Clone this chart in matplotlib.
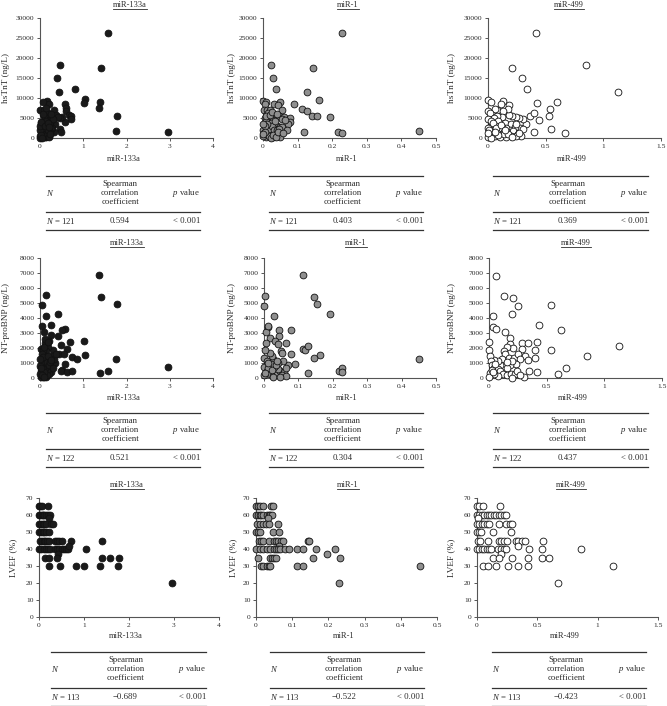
import matplotlib
matplotlib.use("Agg")
import matplotlib.pyplot as plt
from matplotlib.lines import Line2D
import numpy as np

plt.rcParams['font.family'] = ['Liberation Serif', 'DejaVu Serif']
plt.rcParams['mathtext.fontset'] = 'custom'
plt.rcParams['mathtext.rm'] = 'Liberation Serif'
plt.rcParams['mathtext.it'] = 'Liberation Serif:italic'

W, H = 667, 706

# ---- data ----
mirnas = ['miR-133a', 'miR-1', 'miR-499']
markers_face = ['#1a1a1a', '#8f8f8f', 'white']
x_ticks = [[0, 1, 2, 3, 4], [0, 0.1, 0.2, 0.3, 0.4, 0.5], [0, 0.5, 1, 1.5]]
x_tick_labels = [['0', '1', '2', '3', '4'],
                 ['0', '0.1', '0.2', '0.3', '0.4', '0.5'],
                 ['0', '0.5', '1', '1.5']]
y_names = ['hsTnT (ng/L)', 'NT-proBNP (ng/L)', 'LVEF (%)']
y_ticks = [[0, 5000, 10000, 15000, 20000, 25000, 30000],
           [0, 1000, 2000, 3000, 4000, 5000, 6000, 7000, 8000],
           [0, 10, 20, 30, 40, 50, 60, 70]]

n_vals = [121, 122, 113]
rho_vals = [['0.594', '0.403', '0.369'],
            ['0.521', '0.304', '0.437'],
            ['\u22120.689', '\u22120.522', '\u22120.423']]
p_text = '< 0.001'

tnt_133a = [(1.57, 26300), (0.46, 18200), (1.42, 17500), (0.40, 15100), (0.45, 11500), (0.82, 12200),
            (1.05, 9700), (1.02, 8800), (1.38, 9000), (1.36, 7400), (1.78, 5600), (1.75, 1700), (2.97, 1400),
            (0.57, 8500), (0.60, 7500), (0.60, 6800), (0.68, 5700), (0.72, 5500), (0.72, 4700), (0.57, 4100),
            (0.52, 5200), (0.46, 5000), (0.47, 2300), (0.48, 1600), (0.33, 7100), (0.38, 5800), (0.42, 5300),
            (0.35, 3500), (0.32, 1500), (0.28, 2600), (0.16, 9300), (0.08, 9000), (0.20, 8500), (0.0, 7000),
            (0.10, 7000), (0.18, 6300), (0.22, 5600), (0.25, 4900), (0.12, 5000), (0.16, 4900), (0.20, 4500),
            (0.23, 3800), (0.14, 3600), (0.05, 2800), (0.08, 3300), (0.18, 3000), (0.25, 2300), (0.22, 1400),
            (0.12, 1000), (0.02, 1200), (0.04, 2200), (0.06, 1800), (0.09, 2500), (0.11, 1900), (0.13, 2800),
            (0.15, 1500), (0.17, 2200), (0.19, 1000), (0.21, 600), (0.03, 500), (0.05, 300), (0.07, 800),
            (0.09, 400), (0.11, 200), (0.13, 700), (0.15, 300), (0.17, 500), (0.01, 100), (0.02, 2400),
            (0.04, 1500), (0.06, 700), (0.08, 1200), (0.10, 1600), (0.12, 400), (0.14, 1100), (0.16, 800),
            (0.18, 1900), (0.03, 3800), (0.06, 3500), (0.09, 4200), (0.10, 5500), (0.13, 4300), (0.24, 4100),
            (0.27, 5100), (0.30, 4700), (0.0, 2000), (0.01, 3100), (0.02, 4100), (0.11, 3000), (0.19, 3700),
            (0.21, 2700), (0.07, 6100), (0.15, 7500), (0.26, 6000), (0.0, 500), (0.02, 800), (0.04, 100),
            (0.20, 200), (0.23, 1000)]

tnt_1 = [(0.229, 26300), (0.023, 18200), (0.145, 17500), (0.030, 15000), (0.037, 12200), (0.128, 11400),
         (0.163, 9600), (0.090, 8400), (0.112, 7300), (0.128, 6700), (0.143, 5500), (0.157, 5500),
         (0.193, 5300), (0.118, 1400), (0.218, 1500), (0.228, 1300), (0.452, 1700), (0.050, 9000),
         (0.032, 8600), (0.043, 8300), (0.055, 7100), (0.045, 5500), (0.060, 5300), (0.055, 4700),
         (0.078, 5100), (0.078, 4100), (0.072, 3500), (0.0, 9300), (0.008, 9000), (0.006, 8400),
         (0.002, 7000), (0.012, 6900), (0.020, 7000), (0.015, 6200), (0.025, 5200), (0.018, 5000),
         (0.005, 4900), (0.028, 4600), (0.010, 4200), (0.022, 3800), (0.035, 3300), (0.040, 2900),
         (0.048, 2700), (0.055, 2800), (0.030, 2400), (0.015, 2700), (0.005, 2500), (0.0, 2000),
         (0.012, 1800), (0.020, 1500), (0.025, 1100), (0.030, 1700), (0.038, 1400), (0.042, 1000),
         (0.048, 700), (0.050, 300), (0.035, 500), (0.028, 300), (0.020, 700), (0.015, 400), (0.008, 200),
         (0.0, 500), (0.003, 1300), (0.010, 1000), (0.018, 2200), (0.025, 3000), (0.033, 2000),
         (0.040, 1900), (0.045, 2300), (0.012, 3400), (0.006, 3000), (0.016, 600), (0.022, 100),
         (0.030, 800), (0.038, 200), (0.044, 1600), (0.005, 1600), (0.0, 1100), (0.001, 3500),
         (0.009, 5600), (0.020, 5800), (0.027, 6500), (0.035, 4300), (0.040, 5900), (0.065, 4600),
         (0.068, 2000), (0.058, 1200)]

tnt_499 = [(0.42, 26300), (0.85, 18200), (0.205, 17500), (0.295, 15000), (0.34, 12200), (1.13, 11400),
           (0.425, 8700), (0.60, 9000), (0.54, 7300), (0.53, 5500), (0.36, 5500), (0.40, 6200), (0.44, 4400),
           (0.55, 2300), (0.67, 1300), (0.40, 1400), (0.33, 3500), (0.30, 4800), (0.27, 5000), (0.245, 5300),
           (0.21, 5400), (0.18, 5800), (0.18, 8200), (0.13, 9200), (0.0, 9600), (0.03, 9000), (0.11, 8400),
           (0.08, 7000), (0.17, 7200), (0.13, 6800), (0.06, 7300), (0.0, 6800), (0.02, 6200), (0.12, 5200),
           (0.08, 5500), (0.05, 5000), (0.0, 4800), (0.03, 4200), (0.09, 4300), (0.15, 3800), (0.20, 3400),
           (0.25, 2600), (0.28, 2500), (0.30, 2300), (0.23, 2800), (0.19, 2100), (0.16, 2600), (0.12, 2700),
           (0.07, 3100), (0.02, 2800), (0.0, 2400), (0.05, 2000), (0.10, 1800), (0.14, 1500), (0.18, 1200),
           (0.22, 1700), (0.26, 900), (0.29, 500), (0.24, 400), (0.20, 600), (0.16, 300), (0.12, 900),
           (0.08, 1200), (0.04, 700), (0.0, 300), (0.02, 1400), (0.06, 500), (0.10, 200), (0.14, 1000),
           (0.01, 2000), (0.04, 3700), (0.07, 2400), (0.11, 3200), (0.17, 1000), (0.21, 200), (0.27, 1300),
           (0.03, 100), (0.09, 700), (0.15, 2000), (0.24, 3600), (0.0, 1200), (0.06, 1600)]

bnp_133a = [(1.36, 6840), (1.41, 5400), (1.78, 4930), (0.15, 5510), (0.04, 4840), (0.15, 4150), (0.42, 4300),
            (0.25, 3530), (0.05, 3440), (0.09, 3100), (0.58, 3290), (0.50, 3220), (0.42, 2770), (0.25, 2840),
            (1.02, 2490), (0.69, 2380), (0.21, 2440), (0.11, 2330), (0.02, 1960), (0.48, 2180), (0.62, 1930),
            (1.05, 1560), (0.45, 1580), (0.55, 1620), (0.73, 1420), (0.85, 1240), (1.75, 1290), (0.58, 960),
            (0.34, 1000), (0.52, 560), (0.49, 440), (0.62, 400), (0.75, 440), (1.38, 330), (1.57, 440),
            (2.95, 710), (0.30, 1900), (0.28, 1500), (0.33, 1300), (0.38, 1600), (0.22, 1300), (0.18, 2100),
            (0.15, 1800), (0.12, 1500), (0.08, 1900), (0.05, 1600), (0.10, 1200), (0.14, 1000), (0.18, 800),
            (0.22, 600), (0.25, 400), (0.20, 300), (0.16, 500), (0.12, 700), (0.08, 900), (0.04, 1100),
            (0.0, 800), (0.02, 500), (0.05, 300), (0.08, 100), (0.11, 200), (0.14, 100), (0.17, 200),
            (0.02, 100), (0.06, 600), (0.10, 400), (0.13, 1300), (0.17, 1100), (0.21, 900), (0.24, 1100),
            (0.0, 300), (0.03, 700), (0.07, 1400), (0.09, 2100), (0.19, 1500), (0.26, 1200), (0.01, 1300),
            (0.04, 200), (0.12, 2600), (0.19, 2400), (0.29, 700), (0.10, 100)]

bnp_1 = [(0.113, 6840), (0.145, 5410), (0.155, 4920), (0.193, 4280), (0.004, 5480), (0.0, 4810),
         (0.030, 4140), (0.043, 3180), (0.011, 3410), (0.007, 3100), (0.013, 3470), (0.045, 2800),
         (0.078, 3230), (0.017, 2700), (0.032, 2470), (0.063, 2320), (0.042, 2250), (0.005, 2320),
         (0.112, 1920), (0.119, 1870), (0.127, 2140), (0.164, 1510), (0.144, 1360), (0.079, 1580),
         (0.050, 1800), (0.051, 1650), (0.090, 940), (0.071, 870), (0.128, 360), (0.450, 1250),
         (0.217, 470), (0.227, 650), (0.228, 400), (0.056, 1140), (0.040, 1000), (0.027, 1270),
         (0.022, 1470), (0.016, 1670), (0.003, 1850), (0.001, 1360), (0.008, 1140), (0.001, 730),
         (0.009, 470), (0.017, 240), (0.027, 110), (0.037, 290), (0.047, 470), (0.059, 400), (0.064, 690),
         (0.042, 620), (0.030, 730), (0.020, 910), (0.013, 650), (0.001, 200), (0.003, 360), (0.022, 510),
         (0.034, 870), (0.051, 200), (0.063, 160), (0.013, 1020), (0.037, 1140), (0.025, 70), (0.047, 70)]

bnp_499 = [(0.058, 6820), (0.127, 5460), (0.205, 5350), (0.254, 4790), (0.202, 4250), (0.037, 4120),
           (0.032, 3410), (0.058, 3250), (0.138, 3070), (0.54, 4900), (0.62, 3200), (0.435, 3520),
           (0.85, 1470), (1.125, 2140), (0.54, 1890), (0.29, 2340), (0.34, 2320), (0.42, 2430), (0.40, 1870),
           (0.29, 1920), (0.315, 1490), (0.34, 1220), (0.40, 1340), (0.35, 470), (0.42, 400), (0.60, 290),
           (0.67, 670), (0.30, 40), (0.185, 2700), (0.18, 2250), (0.21, 2030), (0.16, 2070), (0.127, 1800),
           (0.138, 1580), (0.115, 1250), (0.173, 1360), (0.213, 1360), (0.248, 1580), (0.265, 1250),
           (0.234, 910), (0.185, 850), (0.153, 690), (0.095, 870), (0.075, 1140), (0.040, 1220), (0.0, 2430),
           (0.0, 1890), (0.009, 1470), (0.014, 1140), (0.023, 870), (0.043, 690), (0.075, 580), (0.095, 470),
           (0.124, 240), (0.153, 180), (0.19, 290), (0.225, 240), (0.24, 470), (0.27, 200), (0.20, 20),
           (0.08, 150), (0.046, 240), (0.012, 360), (0.003, 70), (0.023, 510), (0.052, 910), (0.037, 400),
           (0.196, 1140), (0.153, 1070)]

lvef_133a = [(0.0, 65), (0.03, 65), (0.06, 65), (0.20, 65),
             (0.0, 60), (0.03, 60), (0.06, 60), (0.09, 60), (0.12, 60), (0.15, 60), (0.20, 60), (0.24, 60),
             (0.22, 58),
             (0.0, 55), (0.04, 55), (0.08, 55), (0.12, 55), (0.16, 55), (0.26, 55), (0.30, 55),
             (0.0, 50), (0.04, 50), (0.08, 50), (0.12, 50), (0.16, 50), (0.22, 50),
             (0.03, 45), (0.06, 45), (0.10, 45), (0.14, 45), (0.18, 45), (0.22, 45), (0.35, 45), (0.40, 45),
             (0.45, 45), (0.50, 45), (0.72, 45), (1.40, 45),
             (0.0, 40), (0.05, 40), (0.10, 40), (0.15, 40), (0.20, 40), (0.25, 40), (0.35, 40), (0.40, 40),
             (0.45, 40), (0.50, 40), (0.55, 40), (0.60, 40), (0.64, 40), (1.04, 40),
             (0.67, 42), (0.42, 37),
             (0.13, 35), (0.22, 35), (0.39, 35), (1.39, 35), (1.57, 35), (1.78, 35),
             (0.22, 30), (0.46, 30), (0.83, 30), (1.01, 30), (1.36, 30), (1.76, 30),
             (2.96, 20)]

lvef_1 = [(0.0, 65), (0.005, 65), (0.01, 65), (0.018, 65), (0.041, 65), (0.047, 65),
          (0.0, 60), (0.005, 60), (0.01, 60), (0.015, 60), (0.02, 60), (0.03, 60), (0.035, 60), (0.04, 60),
          (0.044, 60), (0.033, 58),
          (0.003, 55), (0.01, 55), (0.018, 55), (0.028, 55), (0.035, 55), (0.06, 55),
          (0.0, 50), (0.005, 50), (0.01, 50), (0.046, 50), (0.064, 50),
          (0.008, 45), (0.015, 45), (0.02, 45), (0.035, 45), (0.05, 45), (0.055, 45), (0.06, 45), (0.07, 45),
          (0.075, 45), (0.143, 45), (0.146, 45), (0.064, 42),
          (0.0, 40), (0.01, 40), (0.02, 40), (0.03, 40), (0.04, 40), (0.05, 40), (0.055, 40), (0.06, 40),
          (0.065, 40), (0.079, 40), (0.092, 40), (0.112, 40), (0.13, 40), (0.165, 40), (0.219, 40),
          (0.196, 37),
          (0.005, 35), (0.04, 35), (0.045, 35), (0.05, 35), (0.055, 35), (0.157, 35), (0.231, 35),
          (0.015, 30), (0.02, 30), (0.03, 30), (0.035, 30), (0.04, 30), (0.114, 30), (0.13, 30), (0.454, 30),
          (0.23, 20)]

lvef_499 = [(0.0, 65), (0.02, 65), (0.05, 65), (0.19, 65),
            (0.0, 60), (0.02, 60), (0.04, 60), (0.06, 60), (0.08, 60), (0.10, 60), (0.12, 60), (0.14, 60),
            (0.16, 60), (0.18, 60), (0.20, 60), (0.22, 60), (0.24, 60), (0.005, 58),
            (0.0, 55), (0.02, 55), (0.04, 55), (0.06, 55), (0.08, 55), (0.10, 55), (0.18, 55), (0.24, 55),
            (0.27, 55), (0.29, 55),
            (0.0, 50), (0.02, 50), (0.03, 50), (0.13, 50), (0.28, 50),
            (0.005, 45), (0.025, 45), (0.09, 45), (0.18, 45), (0.20, 45), (0.22, 45), (0.25, 45), (0.32, 45),
            (0.34, 45), (0.37, 45), (0.40, 45), (0.55, 45), (0.34, 42),
            (0.0, 40), (0.02, 40), (0.04, 40), (0.06, 40), (0.08, 40), (0.10, 40), (0.12, 40), (0.175, 40),
            (0.20, 40), (0.22, 40), (0.24, 40), (0.43, 40), (0.54, 40), (0.86, 40), (0.20, 37),
            (0.13, 35), (0.18, 35), (0.29, 35), (0.42, 35), (0.54, 35), (0.60, 35),
            (0.05, 30), (0.09, 30), (0.16, 30), (0.26, 30), (0.34, 30), (0.42, 30), (1.13, 30),
            (0.675, 20)]

panels = [[tnt_133a, tnt_1, tnt_499],
          [bnp_133a, bnp_1, bnp_499],
          [lvef_133a, lvef_1, lvef_499]]

# ---- layout in pixels (left, right) per row/col, (top, bottom) per row ----
ax_lr = [[(40, 213), (263, 436), (488, 661)],
         [(40, 213), (264, 436), (489, 662)],
         [(39, 219), (256, 437), (477, 658)]]
ax_tb = [(18, 138), (258, 378), (498, 617)]
title_xy = [[(130, 5), (348, 5), (569, 5)],
            [(127, 243), (356, 243), (576, 243)],
            [(127, 485), (348, 485), (571, 485)]]
ylab_x = [[6, 232, 452], [6, 232, 452], [13, 233, 451]]
xlab_y = [159, 398, 636]
tab_lr = [[(46, 200), (269, 423), (493, 648)],
          [(46, 200), (269, 423), (493, 648)],
          [(51, 206), (270, 424), (492, 646)]]
tab_top = [176, 413, 652]

text_col = '#2b2b2b'
line_col = '#555555'
tick_fs = 5.4
label_fs = 6.0
ylab_fs = 6.7
table_fs = 6.3


def fx(x):
    return x / W


def fy(y):
    return 1 - y / H


fig = plt.figure(figsize=(W / 100, H / 100), dpi=100)

titles = []
for r in range(3):
    for c in range(3):
        l, rr = ax_lr[r][c]
        t, b = ax_tb[r]
        ax = fig.add_axes([fx(l), fy(b), (rr - l) / W, (b - t) / H])
        pts = np.array(panels[r][c])
        ax.scatter(pts[:, 0], pts[:, 1], s=24, facecolor=markers_face[c],
                   edgecolor='#111111', linewidths=0.6, clip_on=False, zorder=3)
        ax.set_xlim(x_ticks[c][0], x_ticks[c][-1])
        ax.set_ylim(y_ticks[r][0], y_ticks[r][-1])
        ax.set_xticks(x_ticks[c])
        ax.set_xticklabels(x_tick_labels[c])
        ax.set_yticks(y_ticks[r])
        ax.set_yticklabels([str(v) for v in y_ticks[r]])
        for s in ['top', 'right']:
            ax.spines[s].set_visible(False)
        for s in ['left', 'bottom']:
            ax.spines[s].set_color(line_col)
            ax.spines[s].set_linewidth(0.8)
        ax.tick_params(labelsize=tick_fs, colors=text_col, length=2.5, width=0.7, pad=1.5)
        ax.tick_params(color=line_col)

        tx, ty = title_xy[r][c]
        titles.append(fig.text(fx(tx), fy(ty), mirnas[c], ha='center', va='center',
                               fontsize=label_fs, color=text_col))
        fig.text(fx(ylab_x[r][c]), fy((t + b) / 2), y_names[r], rotation=90,
                 ha='center', va='center', fontsize=ylab_fs, color=text_col)
        fig.text(fx((l + rr) / 2 - 3), fy(xlab_y[r]), mirnas[c], ha='center', va='center',
                 fontsize=label_fs, color=text_col)

        # small table under the plot
        tl, tr = tab_lr[r][c]
        top = tab_top[r]
        for yy in [top, top + 36, top + 54]:
            fig.add_artist(Line2D([fx(tl), fx(tr)], [fy(yy), fy(yy)], color='#333333', lw=0.9))
        hy = top + 17
        fig.text(fx(tl), fy(hy), '$N$', ha='left', va='center', fontsize=table_fs, color=text_col)
        fig.text(fx((tl + tr) / 2 - 3), fy(hy), 'Spearman\ncorrelation\ncoefficient', ha='center',
                 va='center', fontsize=table_fs, color=text_col, linespacing=1.2)
        fig.text(fx(tr), fy(hy), '$p$ value', ha='right', va='center', fontsize=table_fs, color=text_col)
        dy = top + 45
        fig.text(fx(tl), fy(dy), '$N$ = %d' % n_vals[r], ha='left', va='center', fontsize=table_fs,
                 color=text_col)
        fig.text(fx((tl + tr) / 2 - 3), fy(dy), rho_vals[r][c], ha='center', va='center',
                 fontsize=table_fs, color=text_col)
        fig.text(fx(tr), fy(dy), p_text, ha='right', va='center', fontsize=table_fs, color=text_col)

# underline the titles
fig.canvas.draw()
renderer = fig.canvas.get_renderer()
for t in titles:
    bb = t.get_window_extent(renderer)
    y0 = (bb.y0 - 0.3) / H
    fig.add_artist(Line2D([bb.x0 / W, bb.x1 / W], [y0, y0], color=text_col, lw=0.6))

fig.savefig('out.png', dpi=100)
